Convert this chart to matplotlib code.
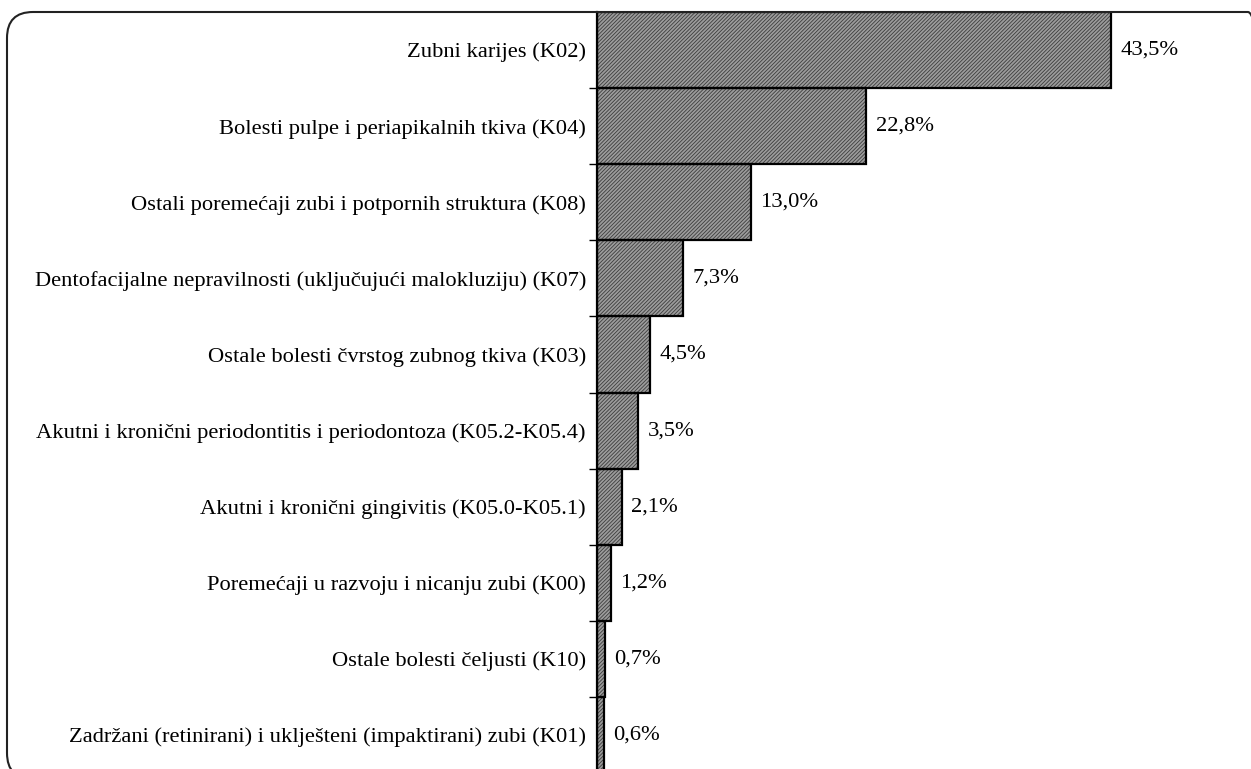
import matplotlib.pyplot as plt
from matplotlib.patches import FancyBboxPatch

categories = [
    "Zubni karijes (K02)",
    "Bolesti pulpe i periapikalnih tkiva (K04)",
    "Ostali poremećaji zubi i potpornih struktura (K08)",
    "Dentofacijalne nepravilnosti (uključujući malokluziju) (K07)",
    "Ostale bolesti čvrstog zubnog tkiva (K03)",
    "Akutni i kronični periodontitis i periodontoza (K05.2-K05.4)",
    "Akutni i kronični gingivitis (K05.0-K05.1)",
    "Poremećaji u razvoju i nicanju zubi (K00)",
    "Ostale bolesti čeljusti (K10)",
    "Zadržani (retinirani) i uklješteni (impaktirani) zubi (K01)",
]
values = [43.5, 22.8, 13.0, 7.3, 4.5, 3.5, 2.1, 1.2, 0.7, 0.6]
value_labels = ["43,5%", "22,8%", "13,0%", "7,3%", "4,5%", "3,5%", "2,1%", "1,2%", "0,7%", "0,6%"]

plt.rcParams["font.family"] = ["Liberation Serif", "DejaVu Serif"]
plt.rcParams["hatch.linewidth"] = 0.6
plt.rcParams["hatch.color"] = "#3c3c3c"

W, H = 1251, 769
FS = 16.2
fig = plt.figure(figsize=(W / 100, H / 100), dpi=100)

# rounded frame, drawn in pixel coordinates (origin bottom left)
frame = FancyBboxPatch((7, H - 779), 1274 - 7, 779 - 12,
                       boxstyle="round,pad=0,rounding_size=26",
                       transform=None, fill=False, edgecolor="#222222",
                       linewidth=1.5)
fig.patches.append(frame)

# axes: left edge at the y spine, top at the frame line
ax = fig.add_axes([597 / W, -4 / H, (1245 - 597) / W, (769 - 12 + 4) / H])
pos = list(range(len(categories)))

ax.barh(pos, values, height=1.0, color="#9c9c9c", edgecolor="#3c3c3c",
        hatch="/////////", linewidth=0, zorder=2)
ax.barh(pos, values, height=1.0, fill=False, edgecolor="black",
        linewidth=1.6, zorder=3)

for p, v, lab in zip(pos, values, value_labels):
    ax.annotate(lab, (v, p), xytext=(6.5, 0), textcoords="offset points",
                va="center", ha="left", fontsize=FS)

ax.set_ylim(len(categories) - 0.5, -0.5)
ax.set_xlim(0, (1245 - 597) / 11.82)

ax.set_yticks(pos)
ax.set_yticklabels(categories, fontsize=FS)
ax.tick_params(axis="y", which="major", length=0, pad=8)
ax.set_yticks([p + 0.5 for p in pos[:-1]], minor=True)
ax.tick_params(axis="y", which="minor", length=6, width=1, direction="out")
ax.set_xticks([])

for s in ["top", "right", "bottom"]:
    ax.spines[s].set_visible(False)
ax.spines["left"].set_linewidth(1.6)
ax.patch.set_visible(False)

plt.savefig("out.png", dpi=100)
